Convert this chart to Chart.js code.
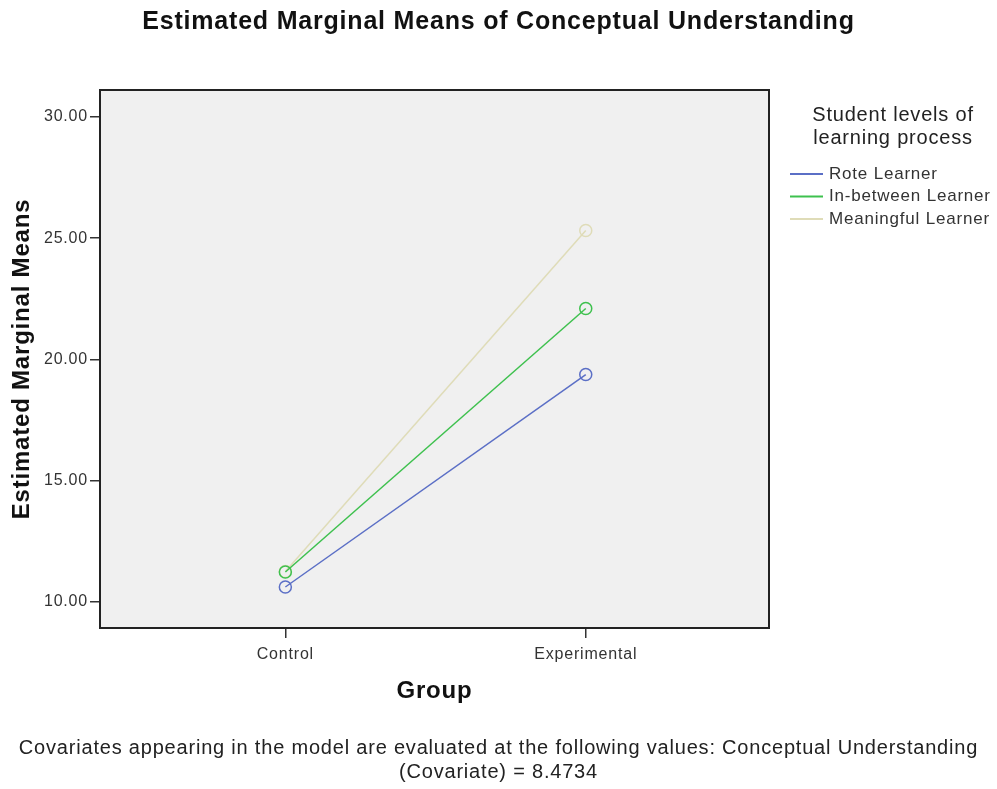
<!DOCTYPE html>
<html>
<head>
<meta charset="utf-8">
<script src="https://cdn.jsdelivr.net/npm/chart.js@4.4.0/dist/chart.umd.min.js"></script>
<style>
  html, body { margin: 0; padding: 0; background: #fff; }
  #chart { display: block; }
</style>
</head>
<body>
<canvas id="chart" width="997" height="789"></canvas>
<script>
// --- Données ---
const groups      = ['Control', 'Experimental'];
const groupPos    = [1, 2];
const yTicks      = [10, 15, 20, 25, 30];

const roteLearner       = [10.62, 19.38];
const inBetweenLearner  = [11.24, 22.10];
const meaningfulLearner = [11.26, 25.32];

const seriesLabels = ['Rote Learner', 'In-between Learner', 'Meaningful Learner'];
const seriesColors = ['#5b6fc6', '#3ec14e', '#dfdcb8'];

const footnote = [
    'Covariates appearing in the model are evaluated at the following values: Conceptual Understanding',
    '(Covariate) = 8.4734'
];

const FONT = "'Liberation Sans', Arial, sans-serif";
const SPACING = '0.8px';

function toPoints(values) {
    return values.map((v, i) => ({ x: groupPos[i], y: v }));
}

const datasets = [roteLearner, inBetweenLearner, meaningfulLearner].map((values, i) => ({
    label: seriesLabels[i],
    data: toPoints(values),
    borderColor: seriesColors[i],
    backgroundColor: 'rgba(0,0,0,0)',
    borderWidth: 1.5,
    pointRadius: 6,
    pointBorderWidth: 1.5,
    pointBackgroundColor: 'rgba(0,0,0,0)',
    pointBorderColor: seriesColors[i],
    tension: 0
}));

// Espacement des lettres (le rendu SPSS est plus large)
const letterSpacing = {
    id: 'letterSpacing',
    beforeUpdate(chart) { chart.ctx.letterSpacing = SPACING; },
    beforeDraw(chart)   { chart.ctx.letterSpacing = SPACING; }
};

// Fond gris + cadre de la zone de tracé, légende à droite
const plotFrame = {
    id: 'plotFrame',
    beforeDatasetsDraw(chart) {
        const { ctx, chartArea: a } = chart;
        ctx.save();
        ctx.fillStyle = '#f0f0f0';
        ctx.fillRect(a.left, a.top, a.right - a.left, a.bottom - a.top);
        ctx.strokeStyle = '#222';
        ctx.lineWidth = 2;
        ctx.strokeRect(a.left, a.top, a.right - a.left, a.bottom - a.top);
        ctx.restore();
    },
    afterDraw(chart) {
        const { ctx } = chart;
        ctx.save();
        ctx.letterSpacing = SPACING;
        ctx.fillStyle = '#222';
        ctx.textAlign = 'center';
        ctx.textBaseline = 'middle';
        ctx.font = '20px ' + FONT;
        ctx.fillText('Student levels of', 893, 115);
        ctx.fillText('learning process', 893, 138);

        ctx.font = '17px ' + FONT;
        ctx.textAlign = 'left';
        chart.data.datasets.forEach((ds, i) => {
            const y = 174 + i * 22.5;
            ctx.strokeStyle = ds.borderColor;
            ctx.lineWidth = 2;
            ctx.beginPath();
            ctx.moveTo(790, y);
            ctx.lineTo(823, y);
            ctx.stroke();
            ctx.fillStyle = '#333';
            ctx.fillText(ds.label, 829, y);
        });
        ctx.restore();
    }
};

new Chart(document.getElementById('chart'), {
    type: 'line',
    data: { datasets },
    plugins: [letterSpacing, plotFrame],
    options: {
        responsive: false,
        animation: false,
        layout: { padding: 0 },
        plugins: {
            legend: { display: false },
            tooltip: { enabled: false },
            title: {
                display: true,
                text: 'Estimated Marginal Means of Conceptual Understanding',
                color: '#111',
                font: { family: FONT, size: 25, weight: 'bold', lineHeight: 1.2 },
                padding: { top: 7, bottom: 53 }
            },
            subtitle: {
                display: true,
                position: 'bottom',
                text: footnote,
                color: '#222',
                font: { family: FONT, size: 20, lineHeight: 1.2 },
                padding: { top: 4, bottom: 5 }
            }
        },
        scales: {
            x: {
                type: 'linear',
                min: 0.383,
                max: 2.61,
                afterBuildTicks: scale => { scale.ticks = groupPos.map(v => ({ value: v })); },
                afterFit: scale => { scale.height = 104; },
                grid: { drawOnChartArea: false, drawTicks: true, tickLength: 10, color: '#333', lineWidth: 1.5 },
                border: { display: true, color: '#222', width: 2 },
                ticks: {
                    color: '#333',
                    padding: 7,
                    font: { family: FONT, size: 16 },
                    callback: (v, i) => groups[i]
                },
                title: {
                    display: true,
                    text: 'Group',
                    color: '#111',
                    font: { family: FONT, size: 24, weight: 'bold', lineHeight: 1.2 },
                    padding: { top: 0, bottom: 26 }
                }
            },
            y: {
                min: 8.93,
                max: 31.11,
                afterBuildTicks: scale => { scale.ticks = yTicks.map(v => ({ value: v })); },
                afterFit: scale => { scale.width = 100; },
                grid: { drawOnChartArea: false, drawTicks: true, tickLength: 10, color: '#333', lineWidth: 1.5 },
                border: { display: true, color: '#222', width: 2 },
                ticks: {
                    color: '#333',
                    padding: 2,
                    font: { family: FONT, size: 16 },
                    callback: v => v.toFixed(2)
                },
                title: {
                    display: true,
                    text: 'Estimated Marginal Means',
                    color: '#111',
                    font: { family: FONT, size: 24, weight: 'bold', lineHeight: 1.2 },
                    padding: { top: 8, bottom: 0 }
                }
            },
            // axe fantôme : réserve la place de la légende à droite
            side: {
                type: 'linear',
                position: 'right',
                display: true,
                afterFit: scale => { scale.width = 228; },
                grid: { display: false },
                border: { display: false },
                ticks: { display: false }
            }
        }
    }
});
</script>
</body>
</html>
